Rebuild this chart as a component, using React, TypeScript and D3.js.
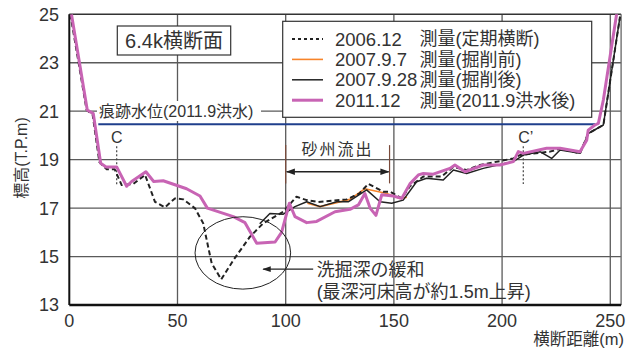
import React from "react";
import * as d3 from "d3";

// 横断距離(m) と 標高(T.P.m) の組
const survey2006: [number, number][] = [
  [0.5, 25.0], [8, 21.05], [10.8, 20.85], [13.9, 18.9], [17.3, 18.6], [21, 18.6],
  [24.2, 17.95], [29.6, 18.0], [35, 18.37], [39.6, 17.26], [44.2, 17.03], [48.8, 17.4],
  [52.7, 17.36], [58.1, 16.99], [61.9, 16.37], [63.5, 15.68], [65.8, 14.72], [70.2, 14.06],
  [75.8, 14.85], [83.5, 15.82], [89.6, 16.37], [98.9, 16.85], [105, 17.47], [109.7, 17.33],
  [115, 17.25], [128.2, 17.36], [134, 17.6], [138.2, 18.0], [145.1, 17.68], [148.2, 17.68],
  [153.6, 17.4], [157.4, 17.9], [163.6, 18.3], [172, 18.3], [177.5, 18.7], [183.6, 18.57],
  [189.8, 18.78], [205.2, 19.05], [208.3, 19.19], [222.1, 19.33], [226.8, 19.45], [236, 19.26],
  [239.8, 20.08], [246.8, 20.43], [254.5, 24.9],
];

const survey2007a: [number, number][] = [
  [110, 17.2], [115.9, 17.06], [129.7, 17.36], [136.6, 17.8], [146.7, 17.6], [152.8, 17.4],
  [156, 17.45],
];

const survey2007b: [number, number][] = [
  [88, 16.35], [92.7, 16.78], [98.9, 16.75], [104.3, 17.06], [109.7, 17.26], [115.9, 17.06],
  [123.6, 17.26], [128.9, 17.26], [137.4, 17.75], [143.6, 17.26], [149, 17.2], [154.3, 17.33],
  [160.5, 18.09], [165.1, 18.23], [172.8, 18.16], [177.5, 18.57], [183.6, 18.43], [191.3, 18.64],
  [205.2, 18.92], [209.8, 19.19], [217.5, 19.33], [222.9, 19.05], [226.8, 19.4], [236, 19.26],
  [239.8, 20.08], [246.8, 20.43], [254.5, 24.9],
];

const survey2011: [number, number][] = [
  [1, 25.0], [8.3, 21.05], [11.1, 20.9], [14.5, 18.85], [17, 18.7], [21.9, 18.7], [26.5, 17.9],
  [28.8, 18.1], [35.4, 18.5], [39, 18.1], [43.4, 18.13], [54.2, 17.8], [60.4, 17.5], [63.8, 17.0],
  [75.8, 16.65], [81.2, 16.4], [86.6, 15.55], [95.1, 15.6], [98.1, 16.0], [101.7, 17.2],
  [104.3, 16.65], [109.7, 16.4], [114.3, 16.45], [122.8, 16.85], [129.7, 16.95], [133.6, 17.13],
  [136.6, 17.6], [139, 17.0], [141.7, 16.7], [144.4, 17.55], [149.7, 17.5], [153.6, 17.4],
  [157.4, 18.0], [161.3, 18.37], [163.6, 18.43], [168.2, 18.4], [175.9, 18.64], [178.2, 18.78],
  [182.9, 18.5], [191.3, 18.78], [199, 18.78], [205.2, 18.92], [207.5, 19.33], [209.8, 19.26],
  [220.6, 19.47], [226.8, 19.47], [236, 19.33], [239.1, 19.8], [239.8, 20.22], [242.9, 20.43],
  [244.5, 20.5], [246.8, 21.46], [253, 25.05],
];

const legendDates = ["2006.12", "2007.9.7", "2007.9.28", "2011.12"];
const legendNotes = ["測量(定期横断)", "測量(掘削前)", "測量(掘削後)", "測量(2011.9洪水後)"];

const xTicks = [0, 50, 100, 150, 200, 250];
const yTicks = [13, 15, 17, 19, 21, 23, 25];

// 痕跡水位
const traceLevel = 20.46;
const traceFrom = 13.4;
const traceTo = 243;

const sectionC = 21.9;
const sectionC2 = 209.8;
const sandbarFrom = 100;
const sandbarTo = 148;

const font = "'Liberation Sans', 'Noto Sans CJK JP', sans-serif";

// 系列の描画スタイル
const seriesStyle = [
  { stroke: "#222", width: 2, dash: "5,3" },
  { stroke: "#F7842A", width: 1.6, dash: null },
  { stroke: "#222", width: 1.5, dash: null },
  { stroke: "#C864B4", width: 3, dash: null },
];

const App = () => {
  const width = 636;
  const height = 349;

  const x = d3.scaleLinear().domain([0, 255]).range([69.3, 621.1]);
  const y = d3.scaleLinear().domain([13, 25]).range([305, 14.3]);

  const line = d3
    .line<[number, number]>()
    .x((d) => x(d[0]))
    .y((d) => y(d[1]));

  const series = [survey2007a, survey2007b, survey2006, survey2011];
  const styleIdx = [1, 2, 0, 3];

  return (
    <svg
      width={width}
      height={height}
      style={{ position: "absolute", left: 0, top: 0, background: "#fff" }}
      fontFamily={font}
    >
      <defs>
        <clipPath id="plot">
          <rect x={x(0)} y={y(25)} width={x(255) - x(0)} height={y(13) - y(25)} />
        </clipPath>
        <marker id="ah" viewBox="0 0 10 10" refX="9" refY="5" markerWidth="7" markerHeight="7" orient="auto-start-reverse">
          <path d="M0,1.5 L10,5 L0,8.5 z" fill="#222" />
        </marker>
      </defs>

      {/* grid */}
      {xTicks.slice(1).map((t) => (
        <line key={"gx" + t} x1={x(t)} x2={x(t)} y1={y(25)} y2={y(13)} stroke="#5a5a5a" strokeWidth={1.3} />
      ))}
      {yTicks.slice(1, -1).map((t) => (
        <line key={"gy" + t} x1={x(0)} x2={x(255)} y1={y(t)} y2={y(t)} stroke="#5a5a5a" strokeWidth={1.3} />
      ))}
      {/* frame */}
      <line x1={x(0)} x2={x(255)} y1={y(25)} y2={y(25)} stroke="#333" strokeWidth={1.5} />
      <line x1={x(255)} x2={x(255)} y1={y(25)} y2={y(13)} stroke="#666" strokeWidth={1.3} />
      <line x1={x(0)} x2={x(0)} y1={y(25)} y2={y(13)} stroke="#111" strokeWidth={2} />
      <line x1={x(0)} x2={x(255)} y1={y(13)} y2={y(13)} stroke="#111" strokeWidth={2.5} />

      {/* tick labels */}
      {yTicks.map((t) => (
        <text key={"ty" + t} x={59} y={y(t)} dy="0.36em" textAnchor="end" fontSize={18} fill="#333">
          {t}
        </text>
      ))}
      {xTicks.map((t) => (
        <text key={"tx" + t} x={x(t)} y={327} textAnchor="middle" fontSize={18} fill="#333">
          {t}
        </text>
      ))}

      <text transform={`translate(27,158) rotate(-90)`} textAnchor="middle" fontSize={16} fill="#333">
        標高(T.P.m)
      </text>
      <text x={624} y={344.5} textAnchor="end" fontSize={16.5} fill="#333">
        横断距離(m)
      </text>

      {/* 痕跡水位 */}
      <rect x={97} y={101} width={164} height={20} fill="#fff" />
      <text x={99} y={111} dy="0.36em" fontSize={16} fill="#333">
        痕跡水位(2011.9洪水)
      </text>
      <line x1={x(traceFrom)} x2={x(traceTo)} y1={y(traceLevel)} y2={y(traceLevel)} stroke="#1F3F8C" strokeWidth={2} />

      {/* C, C' */}
      <line x1={x(sectionC)} x2={x(sectionC)} y1={y(19.55)} y2={y(17.95)} stroke="#444" strokeWidth={1.2} strokeDasharray="2,2" />
      <text x={x(sectionC)} y={137} dy="0.36em" textAnchor="middle" fontSize={16} fill="#333">C</text>
      <line x1={x(sectionC2)} x2={x(sectionC2)} y1={y(19.55)} y2={y(18.0)} stroke="#444" strokeWidth={1.2} strokeDasharray="2,2" />
      <text x={x(sectionC2) - 5} y={137} dy="0.36em" fontSize={16} fill="#333">C’</text>

      {/* 砂州流出 */}
      <line x1={x(sandbarFrom)} x2={x(sandbarFrom)} y1={y(19.6)} y2={y(18.02)} stroke="#7A4A3A" strokeWidth={1.2} />
      <line x1={x(sandbarTo)} x2={x(sandbarTo)} y1={y(19.6)} y2={y(18.02)} stroke="#7A4A3A" strokeWidth={1.2} />
      <line
        x1={x(sandbarFrom) + 1}
        x2={x(sandbarTo) - 1}
        y1={y(18.5)}
        y2={y(18.5)}
        stroke="#222"
        strokeWidth={1.3}
        markerStart="url(#ah)"
        markerEnd="url(#ah)"
      />
      <text x={x((sandbarFrom + sandbarTo) / 2)} y={149} dy="0.36em" textAnchor="middle" fontSize={16} letterSpacing={2} fill="#333">
        砂州流出
      </text>

      {/* survey lines */}
      <g clipPath="url(#plot)">
        {series.map((s, i) => {
          const st = seriesStyle[styleIdx[i]];
          return (
            <path
              key={"s" + i}
              d={line(s) || ""}
              fill="none"
              stroke={st.stroke}
              strokeWidth={st.width}
              strokeDasharray={st.dash || undefined}
              strokeLinejoin="round"
            />
          );
        })}
      </g>

      {/* 洗掘深の緩和 */}
      <ellipse cx={x(80.2)} cy={y(15.15)} rx={47.8} ry={36.2} fill="none" stroke="#222" strokeWidth={1} />
      <line x1={x(112.7)} x2={x(89.6)} y1={y(14.48)} y2={y(14.48)} stroke="#222" strokeWidth={1.2} markerEnd="url(#ah)" />
      <text x={x(114.3)} y={y(14.48)} dy="0.36em" fontSize={18} fill="#333">
        洗掘深の緩和
      </text>
      <text x={x(114.3)} y={y(13.55)} dy="0.36em" fontSize={18} fill="#333">
        (最深河床高が約1.5m上昇)
      </text>

      {/* title */}
      <rect x={117.3} y={26} width={113.4} height={29} fill="#fff" stroke="#333" strokeWidth={1.2} />
      <text x={174} y={40.5} dy="0.36em" textAnchor="middle" fontSize={20} fill="#333">
        6.4k横断面
      </text>

      {/* legend */}
      <rect x={282.7} y={21.3} width={309} height={96} fill="#fff" stroke="#333" strokeWidth={1.2} />
      {legendDates.map((d, i) => {
        const st = seriesStyle[i];
        const cy = 39 + i * 20.4;
        return (
          <g key={"lg" + i}>
            <line x1={292} x2={323} y1={cy} y2={cy} stroke={st.stroke} strokeWidth={st.width} strokeDasharray={i === 0 ? "3,3" : st.dash || undefined} />
            <text x={335} y={cy} dy="0.36em" fontSize={18.5} fill="#333">
              {d}
            </text>
            <text x={419.5} y={cy} dy="0.36em" fontSize={18} fill="#333">
              {legendNotes[i]}
            </text>
          </g>
        );
      })}
    </svg>
  );
};

export default App;
